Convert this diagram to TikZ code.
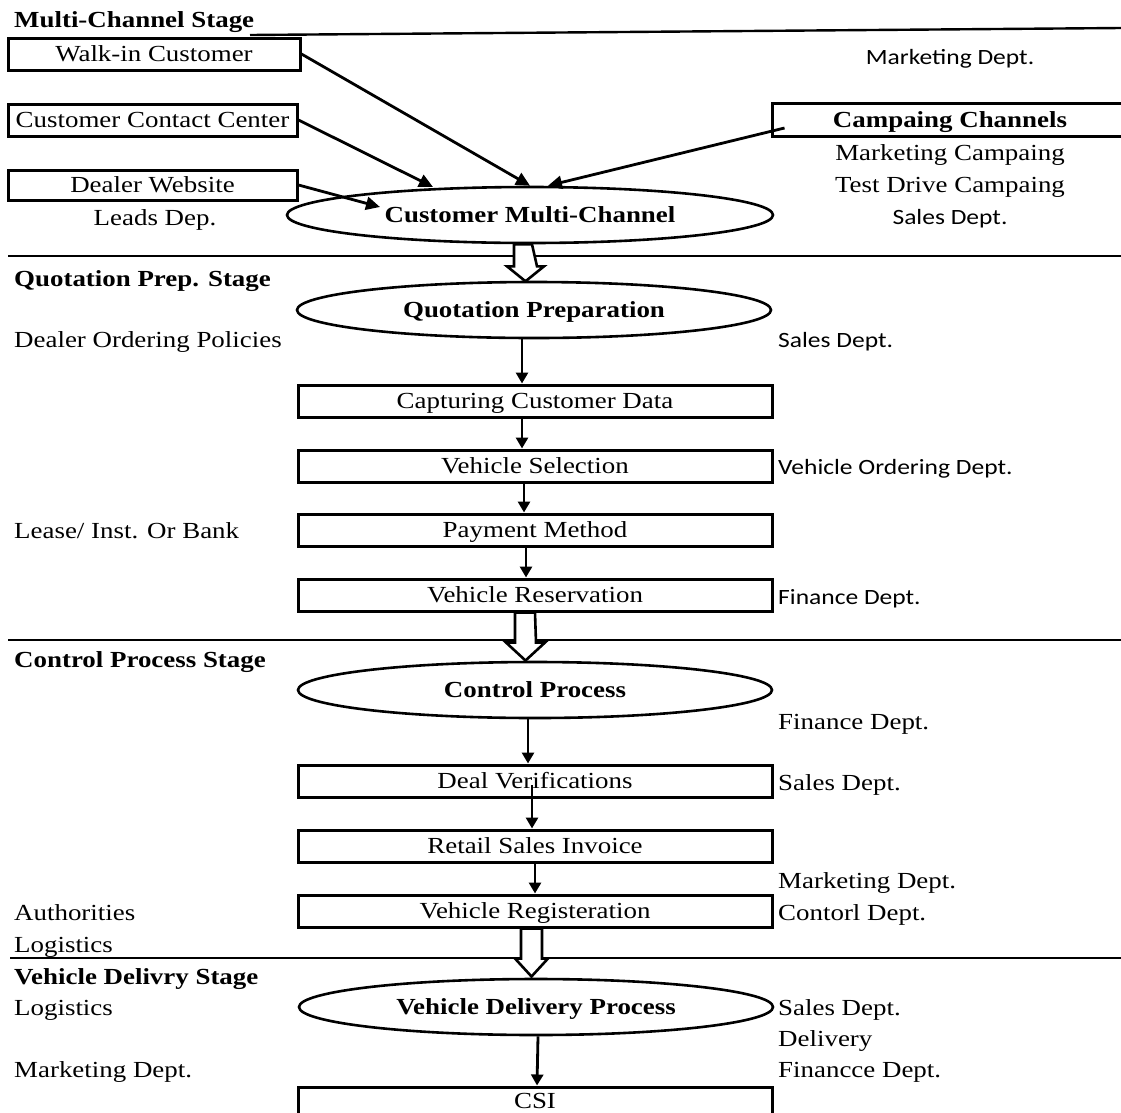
\documentclass[tikz,border=0pt]{standalone}
\usepackage{fontspec}
\setmainfont{Liberation Serif}[FakeStretch=1.17]
\newfontfamily\sansf{Carlito}[FakeStretch=1.17]
\usetikzlibrary{shapes.geometric,arrows.meta,calc}
\begin{document}
\begin{tikzpicture}[x=1pt,y=-1pt,
  every node/.style={font=\fontsize{23}{26}\selectfont},
  txt/.style={inner sep=0pt, text height=15pt, text depth=0pt},
  lt/.style={txt, anchor=west},
  bld/.style={font=\fontsize{23}{26}\selectfont\bfseries},
  sf/.style={font=\fontsize{21.8}{26}\selectfont\sansf},
  bx/.style={draw, line width=3pt, inner sep=0pt, text height=15pt, text depth=0pt, minimum width=474pt, minimum height=32pt},
  el/.style={draw, ellipse, line width=2.6pt, inner sep=0pt, minimum width=474pt, minimum height=56pt, text height=15pt, text depth=0pt, bld},
  stage/.style={line width=2.4pt},
  arr/.style={line width=2.8pt, -{Triangle[length=11pt,width=12pt]}},
  arrb/.style={line width=2.8pt, -{Triangle[length=14pt,width=13pt]}},
  barrow/.style={line width=2.6pt, fill=white, line join=miter}
]
\clip (0,0) rectangle (1121,1112);
\fill[white] (0,0) rectangle (1121,1112);

% stage separators
\draw[stage] (250,35) -- (1121,28);
\draw[stage] (8,256) -- (1121,256);
\draw[stage] (8,640) -- (1121,640);
\draw[stage] (10,958) -- (1121,958);

% ---------- Multi-Channel Stage ----------
\node[lt, bld] (s1) at (14,20) {Multi-Channel Stage};
\node[bx, minimum width=292pt] (walk) at (154,54) {Walk-in Customer};
\node[bx, minimum width=289pt] (ccc) at (152.5,120) {Customer Contact Center};
\node[bx, minimum width=289pt, minimum height=30pt] (web) at (152.5,185) {Dealer Website};
\node[txt] (leads) at (155,218) {Leads Dep.};
\node[el, minimum width=486pt] (cmc) at (530,215) {Customer Multi-Channel};
\node[bx, minimum width=356pt, minimum height=33pt, bld] (camp) at (950,120) {Campaing Channels};
\node[txt, sf] (mkt1) at (950,57) {Marketing Dept.};
\node[txt] (mc) at (950,153) {Marketing Campaing};
\node[txt] (td) at (950,185) {Test Drive Campaing};
\node[txt, sf] (sd1) at (950,217) {Sales Dept.};

\draw[arrb] (walk.east) -- ([xshift=0pt]cmc.north);
\draw[arrb] (ccc.east) -- ($(cmc.center)+(-97,-28)$);
\draw[arrb] (web.east) -- ($(cmc.center)+(-150,-8)$);
\draw[arrb] ($(camp.west)+(14,8)$) -- ([xshift=18pt]cmc.north);

% ---------- Quotation Prep. Stage ----------
\node[lt, bld] (s2) at (14,279) {Quotation Prep. Stage};
\node[el] (qp) at (534,310) {Quotation Preparation};
\node[lt] (dop) at (14,340) {Dealer Ordering Policies};
\node[lt, sf] (sd2) at (778,340) {Sales Dept.};
\node[bx] (ccd) at (535,401) {Capturing Customer Data};
\node[bx] (vs) at (535,466) {Vehicle Selection};
\node[lt, sf] (vod) at (778,467) {Vehicle Ordering Dept.};
\node[lt] (lease) at (14,531) {Lease/ Inst. Or Bank};
\node[bx] (pm) at (535,530) {Payment Method};
\node[bx] (vr) at (535,595) {Vehicle Reservation};
\node[lt, sf] (fd1) at (778,597) {Finance Dept.};

\draw[arr] ([xshift=-12pt]qp.south) -- ([xshift=-13pt]ccd.north);
\draw[arr] ([xshift=-13pt]ccd.south) -- ([xshift=-13pt]vs.north);
\draw[arr] ([xshift=-11pt]vs.south) -- ([xshift=-11pt]pm.north);
\draw[arr] ([xshift=-9pt]pm.south) -- ([xshift=-9pt]vr.north);

% ---------- Control Process Stage ----------
\node[lt, bld] (s3) at (14,660) {Control Process Stage};
\node[el] (cp) at (535,690) {Control Process};
\node[lt] (fd2) at (778,722) {Finance Dept.};
\node[bx] (dv) at (535,781) {Deal Verifications};
\node[lt] (sd3) at (778,783) {Sales Dept.};
\node[bx] (rsi) at (535,846) {Retail Sales Invoice};
\node[lt] (mk2) at (778,881) {Marketing Dept.};
\node[bx] (vreg) at (535,911) {Vehicle Registeration};
\node[lt] (cd) at (778,913) {Contorl Dept.};
\node[lt] (auth) at (14,913) {Authorities};
\node[lt] (log1) at (14,945) {Logistics};

\draw[arr] ([xshift=-7pt]cp.south) -- ([xshift=-7pt]dv.north);
\draw[arr] ([shift={(-3,4)}]dv.center) -- ([xshift=-3pt]rsi.north);
\draw[arr] ([xshift=0pt]rsi.south) -- ([xshift=0pt]vreg.north);

% ---------- Vehicle Delivry Stage ----------
\node[lt, bld] (s4) at (14,977) {Vehicle Delivry Stage};
\node[lt] (log2) at (14,1008) {Logistics};
\node[el] (vdp) at (536,1007) {Vehicle Delivery Process};
\node[lt] (sd4) at (778,1008) {Sales Dept.};
\node[lt] (del) at (778,1039) {Delivery};
\node[lt] (fin3) at (778,1070) {Financce Dept.};
\node[lt] (mk3) at (14,1070) {Marketing Dept.};
\node[bx, minimum height=28pt] (csi) at (535,1101) {CSI};

\draw[arr] ([xshift=2pt]vdp.south) -- ([xshift=2pt]csi.north);

% ---------- block arrows between stages ----------
\draw[barrow] ([xshift=-16pt]cmc.south) -- ++(0,22) -- ++(-7,0) -- ++(18.5,15) -- ++(18.5,-15) -- ++(-7,0) -- ([xshift=2pt]cmc.south) -- cycle;
\draw[barrow] ([xshift=-20pt]vr.south) -- ++(0,30) -- ++(-9,0) -- ++(19.5,18) -- ++(19.5,-18) -- ++(-9,0) -- ([xshift=0pt]vr.south) -- cycle;
\draw[barrow] ([xshift=-14pt]vreg.south) -- ++(0,30) -- ++(-6,0) -- ++(16.5,18) -- ++(16.5,-18) -- ++(-6,0) -- ([xshift=7pt]vreg.south) -- cycle;
\end{tikzpicture}
\end{document}
